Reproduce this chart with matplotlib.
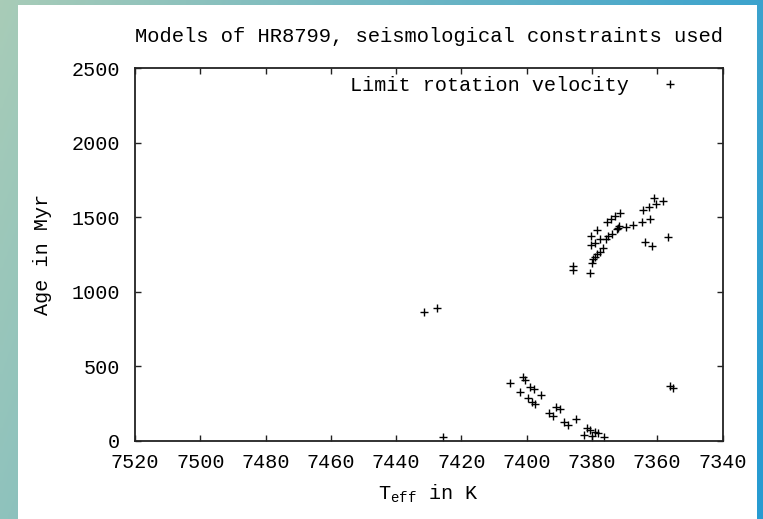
import numpy as np
import matplotlib
matplotlib.use("Agg")
import matplotlib.pyplot as plt
from matplotlib.patches import Rectangle

plt.rcParams['font.family'] = ['Liberation Mono', 'DejaVu Sans Mono']
plt.rcParams['mathtext.fontset'] = 'custom'
plt.rcParams['mathtext.rm'] = 'Liberation Mono'
plt.rcParams['mathtext.it'] = 'Liberation Mono'

# ---- data ----
teff = [7431.6, 7427.5, 7425.7,
        7405.1, 7402.1, 7401.1, 7400.5, 7399.6, 7398.9, 7398.4, 7397.8, 7397.3,
        7395.7, 7393.3, 7392.0, 7390.9, 7389.7, 7388.5, 7387.4, 7384.8, 7382.3,
        7381.4, 7380.5, 7380.0, 7379.2, 7378.1, 7376.3, 7356.2, 7355.2,
        7385.7, 7385.7, 7380.6, 7380.1, 7379.6, 7379.1, 7378.4, 7377.5, 7376.5,
        7380.4, 7379.1, 7377.5, 7380.4, 7378.5, 7375.8, 7375.1, 7373.9, 7375.5,
        7374.2, 7372.9, 7371.4, 7372.2, 7371.7, 7372.0, 7369.6, 7367.3, 7364.8,
        7362.2, 7364.5, 7362.5, 7360.9, 7360.3, 7358.1, 7363.6, 7361.6, 7356.6]
age = [866, 889, 29,
       386, 330, 431, 409, 286, 364, 264, 346, 246,
       308, 185, 168, 230, 212, 127, 107, 150, 40,
       89, 74, 35, 58, 51, 29, 369, 353,
       1173, 1146, 1128, 1195, 1218, 1235, 1253, 1269, 1291,
       1312, 1329, 1352, 1374, 1414, 1352, 1374, 1387, 1470,
       1486, 1508, 1530, 1419, 1441, 1430, 1432, 1448, 1470,
       1488, 1548, 1566, 1631, 1590, 1611, 1332, 1309, 1369]
xticks = [7520, 7500, 7480, 7460, 7440, 7420, 7400, 7380, 7360, 7340]
yticks = [0, 500, 1000, 1500, 2000, 2500]
title = "Models of HR8799, seismological constraints used"
series_label = "Limit rotation velocity"

W, H = 763, 519
fig = plt.figure(figsize=(W / 100, H / 100), dpi=100)

# background gradient
bg = fig.add_axes([0, 0, 1, 1], zorder=-10)
xx, yy = np.meshgrid(np.linspace(0, 1, 200), np.linspace(0, 1, 200))
t = np.clip(0.85 * xx + 0.2 * yy, 0, 1)
c0 = np.array([0.66, 0.80, 0.72])
c1 = np.array([0.16, 0.61, 0.82])
img = c0[None, None, :] * (1 - t[..., None]) + c1[None, None, :] * t[..., None]
bg.imshow(img, extent=[0, 1, 0, 1], origin='upper', aspect='auto')
bg.add_patch(Rectangle((17.5 / W, 0), (757 - 17.5) / W, (H - 5) / H,
                       facecolor='white', edgecolor='none'))
bg.set_xlim(0, 1)
bg.set_ylim(0, 1)
bg.axis('off')

ax = fig.add_axes([135 / W, (H - 441) / H, (722.5 - 135) / W, (441 - 68) / H])
ax.set_facecolor('white')
ax.plot(teff, age, linestyle='none', marker='+', markersize=5.5,
        markeredgewidth=1.0, color='black', label=series_label)

ax.set_xlim(7520, 7340)
ax.set_ylim(0, 2500)
ax.set_xticks(xticks)
ax.set_yticks(yticks)
fs = 14.5
ax.tick_params(direction='in', length=4.5, width=1.0, top=True, right=True,
               labelsize=fs, color='#222222')
ax.tick_params(axis='x', pad=9)
ax.tick_params(axis='y', pad=11)
for s in ax.spines.values():
    s.set_linewidth(1.3)
    s.set_color('#222222')

ax.set_title(title, fontsize=14.8, pad=19)
ax.set_xlabel(r"T$_{\mathrm{eff}}$ in K", fontsize=fs, labelpad=7)
ax.set_ylabel("Age in Myr", fontsize=fs, labelpad=14)

ax.legend(loc='upper right', bbox_to_anchor=(0.927, 0.979), frameon=False,
          fontsize=fs, markerfirst=False, handlelength=1.0, handletextpad=1.5,
          borderaxespad=0, borderpad=0)

fig.savefig("out.png", dpi=100)
